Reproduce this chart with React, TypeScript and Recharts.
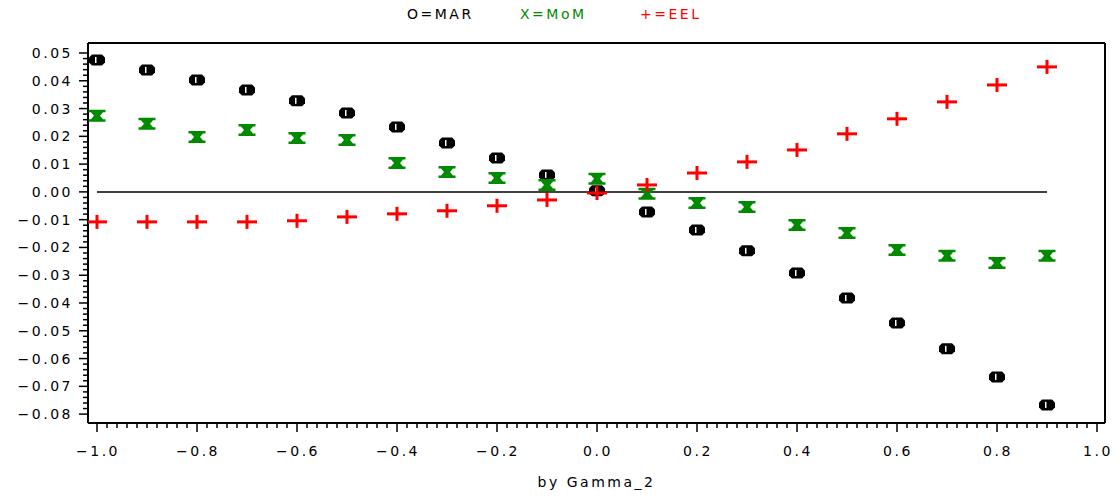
import { ReferenceLine, Scatter, ScatterChart, XAxis, YAxis } from "recharts";

const gammaValues = [
  -1.0, -0.9, -0.8, -0.7, -0.6, -0.5, -0.4, -0.3, -0.2, -0.1, 0.0, 0.1, 0.2,
  0.3, 0.4, 0.5, 0.6, 0.7, 0.8, 0.9,
];
const marValues = [
  0.0475, 0.0439, 0.0403, 0.0367, 0.0328, 0.0284, 0.0234, 0.0176, 0.0122,
  0.0061, 0.0004, -0.0072, -0.0137, -0.0212, -0.0292, -0.0382, -0.0472,
  -0.0565, -0.0666, -0.0767,
];
const momValues = [
  0.0274, 0.0245, 0.0198, 0.0223, 0.0194, 0.0187, 0.0104, 0.0072, 0.005,
  0.0025, 0.0047, -0.0007, -0.004, -0.0054, -0.0119, -0.0148, -0.0209, -0.023,
  -0.0256, -0.023,
];
const eelValues = [
  -0.0108, -0.0108, -0.0108, -0.0108, -0.0104, -0.009, -0.0079, -0.0068,
  -0.005, -0.0029, -0.0004, 0.0025, 0.0068, 0.0108, 0.0151, 0.0209, 0.0263,
  0.0324, 0.0385, 0.045,
];

const xMajorTicks = [-1.0, -0.8, -0.6, -0.4, -0.2, 0.0, 0.2, 0.4, 0.6, 0.8, 1.0];
const xTickLabels = ["−1.0", "−0.8", "−0.6", "−0.4", "−0.2", "0.0", "0.2", "0.4", "0.6", "0.8", "1.0"];
const yMajorTicks = [-0.08, -0.07, -0.06, -0.05, -0.04, -0.03, -0.02, -0.01, 0.0, 0.01, 0.02, 0.03, 0.04, 0.05];
const yTickLabels = ["−0.08", "−0.07", "−0.06", "−0.05", "−0.04", "−0.03", "−0.02", "−0.01", "0.00", "0.01", "0.02", "0.03", "0.04", "0.05"];

const X_DOMAIN: [number, number] = [-1.018, 1.016];
const Y_DOMAIN: [number, number] = [-0.0832, 0.0536];

const font = "'DejaVu Sans', sans-serif";
const GREEN = "#008a00";
const RED = "#ff0000";

// minor ticks between each pair of majors
function withMinor(majors: number[], parts: number) {
  const out: number[] = [];
  for (let i = 0; i < majors.length - 1; i++) {
    const step = (majors[i + 1] - majors[i]) / parts;
    for (let k = 0; k < parts; k++) out.push(+(majors[i] + k * step).toFixed(5));
  }
  out.push(majors[majors.length - 1]);
  return out;
}

const xTicks = withMinor(xMajorTicks, 10);
const yTicks = withMinor(yMajorTicks, 5);

const toPoints = (vals: number[]) => gammaValues.map((g, i) => ({ x: g, y: vals[i] }));
const marData = toPoints(marValues);
const momData = toPoints(momValues);
const eelData = toPoints(eelValues);

function majorIndex(majors: number[], v: number) {
  return majors.findIndex((m) => Math.abs(m - v) < 1e-6);
}

function XTick(props: any) {
  const { x, y, payload } = props;
  const idx = majorIndex(xMajorTicks, payload.value);
  const major = idx >= 0;
  return (
    <g>
      <line x1={x} x2={x} y1={y} y2={y + (major ? 9 : 5)} stroke="#000" strokeWidth={1.5} />
      {major && (
        <text x={x + 1} y={y + 33} textAnchor="middle" fontFamily={font} fontSize={14} letterSpacing={2.5} fill="#000">
          {xTickLabels[idx]}
        </text>
      )}
    </g>
  );
}

function YTick(props: any) {
  const { x, y, payload } = props;
  const idx = majorIndex(yMajorTicks, payload.value);
  const major = idx >= 0;
  return (
    <g>
      <line x1={x} x2={x - (major ? 9 : 5)} y1={y} y2={y} stroke="#000" strokeWidth={1.5} />
      {major && (
        <text x={x - 15} y={y + 5} textAnchor="end" fontFamily={font} fontSize={14} letterSpacing={2.5} fill="#000">
          {yTickLabels[idx]}
        </text>
      )}
    </g>
  );
}

function MarShape({ cx, cy }: any) {
  const pts = [
    [-5, -5.5], [5, -5.5], [8, -2.5], [8, 2.5], [5, 5.5], [-5, 5.5], [-8, 2.5], [-8, -2.5],
  ]
    .map(([a, b]) => `${cx + a},${cy + b}`)
    .join(" ");
  return (
    <g>
      <polygon points={pts} fill="#000" />
      <rect x={cx - 2} y={cy - 3} width={1.5} height={6} fill="#fff" />
    </g>
  );
}

function MomShape({ cx, cy }: any) {
  const pts = [
    [-8.5, -6], [8.5, -6], [8.5, -3.5], [6, -3.5], [3, 0], [6, 3.5], [8.5, 3.5], [8.5, 6],
    [-8.5, 6], [-8.5, 3.5], [-6, 3.5], [-3, 0], [-6, -3.5], [-8.5, -3.5],
  ]
    .map(([a, b]) => `${cx + a},${cy + b}`)
    .join(" ");
  return <polygon points={pts} fill={GREEN} />;
}

function EelShape({ cx, cy }: any) {
  return (
    <g fill={RED}>
      <rect x={cx - 10} y={cy - 1.5} width={20} height={3} />
      <rect x={cx - 1.5} y={cy - 7} width={3} height={14} />
    </g>
  );
}

const legendStyle = {
  position: "absolute" as const,
  top: 6,
  fontFamily: font,
  fontSize: 14,
  letterSpacing: 2.5,
};

export default function App() {
  return (
    <div style={{ position: "absolute", left: 0, top: 0, width: 1117, height: 497, background: "#fff" }}>
      <span style={{ ...legendStyle, left: 407, color: "#000" }}>O=MAR</span>
      <span style={{ ...legendStyle, left: 520, color: GREEN }}>X=MoM</span>
      <span style={{ ...legendStyle, left: 640, color: RED }}>+=EEL</span>
      <ScatterChart width={1117} height={497} margin={{ top: 43, right: 12, bottom: 0, left: 0 }}>
        <XAxis
          type="number"
          dataKey="x"
          domain={X_DOMAIN}
          ticks={xTicks}
          interval={0}
          allowDataOverflow
          tickSize={0}
          tickMargin={0}
          tickLine={false}
          tick={<XTick />}
          axisLine={{ stroke: "#000", strokeWidth: 2 }}
          height={74}
          label={{ value: "by Gamma_2", position: "insideBottom", offset: 10, fontFamily: font, fontSize: 14, letterSpacing: 2.5, fill: "#000" }}
        />
        <YAxis
          type="number"
          dataKey="y"
          domain={Y_DOMAIN}
          ticks={yTicks}
          interval={0}
          allowDataOverflow
          tickSize={0}
          tickMargin={0}
          tickLine={false}
          tick={<YTick />}
          axisLine={{ stroke: "#000", strokeWidth: 2 }}
          width={88}
        />
        <ReferenceLine y={Y_DOMAIN[1]} stroke="#000" strokeWidth={2} />
        <ReferenceLine x={X_DOMAIN[1]} stroke="#000" strokeWidth={2} />
        <ReferenceLine segment={[{ x: -1, y: 0 }, { x: 0.9, y: 0 }]} stroke="#000" strokeWidth={1.5} />
        <Scatter name="MAR" data={marData} shape={<MarShape />} isAnimationActive={false} />
        <Scatter name="MoM" data={momData} shape={<MomShape />} isAnimationActive={false} />
        <Scatter name="EEL" data={eelData} shape={<EelShape />} isAnimationActive={false} />
      </ScatterChart>
    </div>
  );
}
